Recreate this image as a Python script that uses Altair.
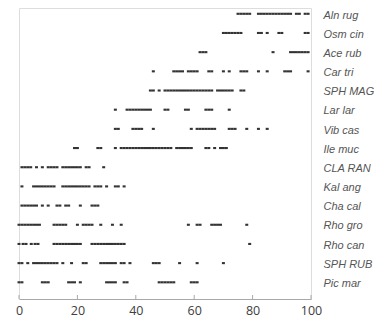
import altair as alt
import pandas as pd

species = ["Aln rug", "Osm cin", "Ace rub", "Car tri", "SPH MAG", "Lar lar",
           "Vib cas", "Ile muc", "CLA RAN", "Kal ang", "Cha cal", "Rho gro",
           "Rho can", "SPH RUB", "Pic mar"]

aln_rug = [75, 76, 77, 78, 79, 82, 83, 84, 85, 86, 87, 88, 89, 90, 91, 92, 93, 95, 96, 98, 99]
osm_cin = [70, 71, 72, 73, 74, 75, 76, 82, 83, 85, 89, 90, 98, 99]
ace_rub = [62, 63, 64, 87, 93, 94, 95, 96, 97, 98, 99]
car_tri = [46, 53, 54, 55, 56, 58, 59, 60, 61, 65, 66, 70, 72, 76, 77, 78, 82, 85, 91, 92, 93, 99]
sph_mag = [45, 46, 48, 50, 51, 52, 53, 54, 55, 56, 57, 58, 59, 60, 61, 62, 63, 64, 65, 66,
           68, 69, 70, 71, 72, 73, 76, 77]
lar_lar = [33, 37, 38, 39, 40, 41, 42, 43, 44, 45, 50, 51, 57, 58, 64, 65, 66, 72]
vib_cas = [33, 34, 39, 40, 41, 42, 46, 59, 61, 62, 63, 64, 65, 66, 67, 72, 73, 74, 78, 82, 85]
ile_muc = [19, 20, 27, 28, 33, 35, 36, 37, 38, 39, 40, 41, 42, 43, 44, 45, 46, 47, 48, 49, 50,
           51, 52, 54, 55, 56, 57, 58, 59, 64, 65, 67, 69, 70, 71]
cla_ran = [1, 2, 3, 4, 6, 8, 10, 11, 12, 13, 15, 16, 17, 18, 19, 20, 21, 23, 24, 29]
kal_ang = [1, 5, 6, 7, 8, 9, 10, 11, 12, 15, 16, 17, 18, 19, 20, 21, 22, 23, 24,
           26, 27, 28, 30, 33, 34, 36]
cha_cal = [1, 2, 3, 4, 5, 6, 8, 10, 13, 14, 16, 17, 21, 25, 26, 27]
rho_gro = [0, 1, 2, 3, 4, 5, 6, 7, 12, 13, 14, 15, 16, 20, 22, 23, 24, 25, 28, 32, 35,
           58, 61, 62, 66, 67, 68, 69, 78]
rho_can = [0, 1.4, 2.4, 4.2, 5.5, 6.5, 12, 13, 14, 15, 16, 17, 18, 19, 20, 21,
           25, 26, 27, 28, 29, 30, 31, 32, 33, 34, 35, 36, 79]
sph_rub = [0, 1, 3, 5, 6, 7, 8, 9, 10, 11, 12, 13, 15, 18, 22, 23, 28, 29, 30, 31, 32, 33,
           35, 36, 38, 46, 47, 48, 55, 61, 70]
pic_mar = [0, 1, 8, 9, 10, 17, 18, 19, 21, 30, 31, 32, 33, 36, 37, 48, 49, 50, 51, 52, 53,
           59, 60, 61]

positions = [aln_rug, osm_cin, ace_rub, car_tri, sph_mag, lar_lar, vib_cas, ile_muc,
             cla_ran, kal_ang, cha_cal, rho_gro, rho_can, sph_rub, pic_mar]

tick_values = [0, 20, 40, 60, 80, 100]

rows = [(s, v) for s, vals in zip(species, positions) for v in vals]
df = pd.DataFrame(rows, columns=["species", "pos"])
ticks_df = pd.DataFrame({"v": tick_values})

W, H = 292, 291

xscale = alt.Scale(domain=[0, 100], nice=False, zero=False)
xaxis = alt.Axis(values=tick_values, title="", grid=False, ticks=False, tickSize=0,
                 domainColor="#a8a8a8", domainWidth=1, labelPadding=5,
                 labelFont="Open Sans", labelFontSize=12.5, labelColor="#404040",
                 labelFlush=False)
yaxis = alt.Axis(orient="right", title="", grid=False, domain=False, ticks=False,
                 tickSize=0, labelPadding=12, labelFont="Liberation Sans",
                 labelFontStyle="italic", labelFontSize=11, labelColor="#555555",
                 labelOffset=1.2)

pts = alt.Chart(df).mark_point(
    shape="M-1,-0.7H1V0.7H-1Z", filled=True, size=9, color="#333333",
    opacity=1, strokeWidth=0
).encode(
    x=alt.X("pos:Q", scale=xscale, axis=xaxis),
    y=alt.Y("species:N", sort=species,
            scale=alt.Scale(type="point", domain=species, range=[5.8, 274.3], padding=0),
            axis=yaxis),
)

tks = alt.Chart(ticks_df).mark_rule(color="#a8a8a8", strokeWidth=1).encode(
    x=alt.X("v:Q", scale=xscale, axis=xaxis),
    y=alt.value(H - 4),
    y2=alt.value(H),
)

chart = alt.layer(tks, pts).properties(
    width=W, height=H,
    padding={"left": 11, "top": 0, "right": 63, "bottom": 19},
    autosize=alt.AutoSizeParams(type="none"),
).configure_view(strokeOpacity=0).configure(background="white")

chart.save("out.html", embed_options={"renderer": "svg", "actions": False})
